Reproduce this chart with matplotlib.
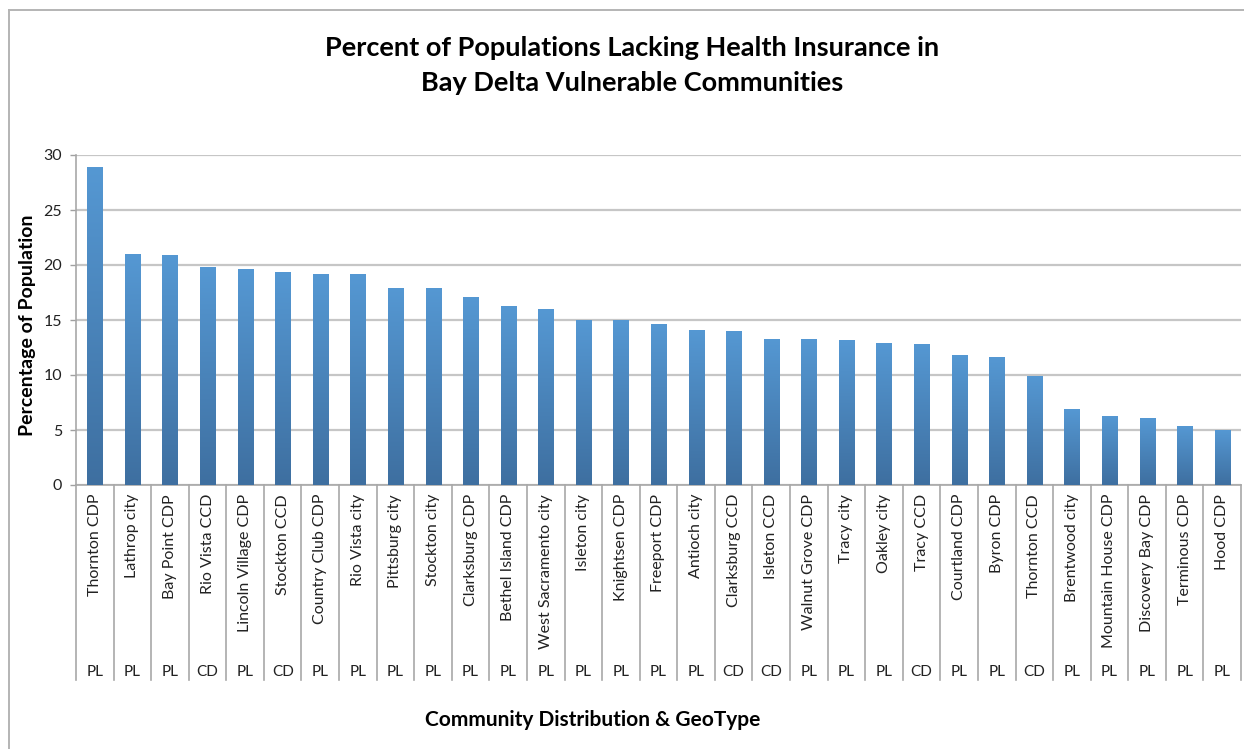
import numpy as np
import matplotlib
matplotlib.use("Agg")
import matplotlib.pyplot as plt
from matplotlib.lines import Line2D
from matplotlib import transforms

plt.rcParams['font.family'] = ['Lato', 'DejaVu Sans']

places = ["Thornton CDP", "Lathrop city", "Bay Point CDP", "Rio Vista CCD",
          "Lincoln Village CDP", "Stockton CCD", "Country Club CDP", "Rio Vista city",
          "Pittsburg city", "Stockton city", "Clarksburg CDP", "Bethel Island CDP",
          "West Sacramento city", "Isleton city", "Knightsen CDP", "Freeport CDP",
          "Antioch city", "Clarksburg CCD", "Isleton CCD", "Walnut Grove CDP",
          "Tracy city", "Oakley city", "Tracy CCD", "Courtland CDP", "Byron CDP",
          "Thornton CCD", "Brentwood city", "Mountain House CDP", "Discovery Bay CDP",
          "Terminous CDP", "Hood CDP"]
geotype = ["PL", "PL", "PL", "CD", "PL", "CD", "PL", "PL", "PL", "PL", "PL", "PL",
           "PL", "PL", "PL", "PL", "PL", "CD", "CD", "PL", "PL", "PL", "CD", "PL",
           "PL", "CD", "PL", "PL", "PL", "PL", "PL"]
uninsured = [28.9, 21.0, 20.9, 19.85, 19.6, 19.35, 19.15, 19.15, 17.95, 17.95,
             17.1, 16.3, 16.0, 15.0, 15.0, 14.6, 14.1, 14.0, 13.3, 13.3,
             13.2, 12.9, 12.85, 11.8, 11.6, 9.95, 6.9, 6.3, 6.05, 5.35, 5.0]

W, H = 1244, 749
fig = plt.figure(figsize=(W / 100, H / 100), dpi=100)

# outer chart frame (only top and left edges fall inside the image)
fig.add_artist(Line2D([9 / W, 9 / W], [0, 1 - 10 / H], color="#b4b4b4", lw=1.4))
fig.add_artist(Line2D([9 / W, 1], [1 - 10 / H, 1 - 10 / H], color="#b4b4b4", lw=1.4))

left, right, top, bottom = 76, 1241, 155, 485
ax = fig.add_axes([left / W, 1 - bottom / H, (right - left) / W, (bottom - top) / H])

x = np.arange(len(places))
bars = ax.bar(x, uninsured, width=0.4, color="#4a86c2", zorder=3)

# vertical gradient inside each bar: lighter at top, darker at bottom
grad = np.linspace(0, 1, 256).reshape(-1, 1)
cmap = matplotlib.colors.LinearSegmentedColormap.from_list("bar", ["#3e6fa0", "#5598d3"])
for b in bars:
    bx, by = b.get_x(), b.get_y()
    im = ax.imshow(grad, cmap=cmap, origin="lower", aspect="auto",
                   extent=[bx, bx + b.get_width(), by, by + b.get_height()], zorder=4)
    im.set_clip_path(b)

ax.set_xlim(-0.5, len(places) - 0.5)
ax.set_ylim(0, 30)
ax.set_yticks(range(0, 31, 5))
ax.yaxis.grid(True, color="#c6c6c6", lw=1.6, zorder=0)
ax.set_axisbelow(True)
ax.tick_params(axis="y", length=4, width=1, color="#a0a0a0", labelsize=11.5, pad=6,
               labelcolor="#222222")
ax.tick_params(axis="x", length=0, labelbottom=False)
for s in ["top", "right"]:
    ax.spines[s].set_visible(False)
for s in ["left", "bottom"]:
    ax.spines[s].set_color("#a8a8a8")
    ax.spines[s].set_linewidth(1.2)

# two-level category axis below the plot
ph = bottom - top
trans = transforms.blended_transform_factory(ax.transData, ax.transAxes)
sep_low = -(680 - bottom) / ph
for i in range(len(places) + 1):
    ax.add_line(Line2D([i - 0.5, i - 0.5], [0, sep_low], transform=trans,
                       color="#a8a8a8", lw=1.2, clip_on=False))
for i, (name, gt) in enumerate(zip(places, geotype)):
    ax.text(i, -(494 - bottom) / ph, name, transform=trans, rotation=90,
            ha="center", va="top", fontsize=11.5, color="#222222")
    ax.text(i, -(672 - bottom) / ph, gt, transform=trans,
            ha="center", va="center", fontsize=11, color="#222222")

fig.text(632 / W, 1 - 48 / H, "Percent of Populations Lacking Health Insurance in",
         ha="center", va="center", fontsize=19.5, fontweight="bold")
fig.text(632 / W, 1 - 83 / H, "Bay Delta Vulnerable Communities",
         ha="center", va="center", fontsize=19.5, fontweight="bold")
fig.text(27 / W, 1 - 325 / H, "Percentage of Population", rotation=90,
         ha="center", va="center", fontsize=14, fontweight="bold")
fig.text(593 / W, 1 - 720 / H, "Community Distribution & GeoType",
         ha="center", va="center", fontsize=15, fontweight="bold")

fig.savefig("out.png", dpi=100, facecolor="white")
